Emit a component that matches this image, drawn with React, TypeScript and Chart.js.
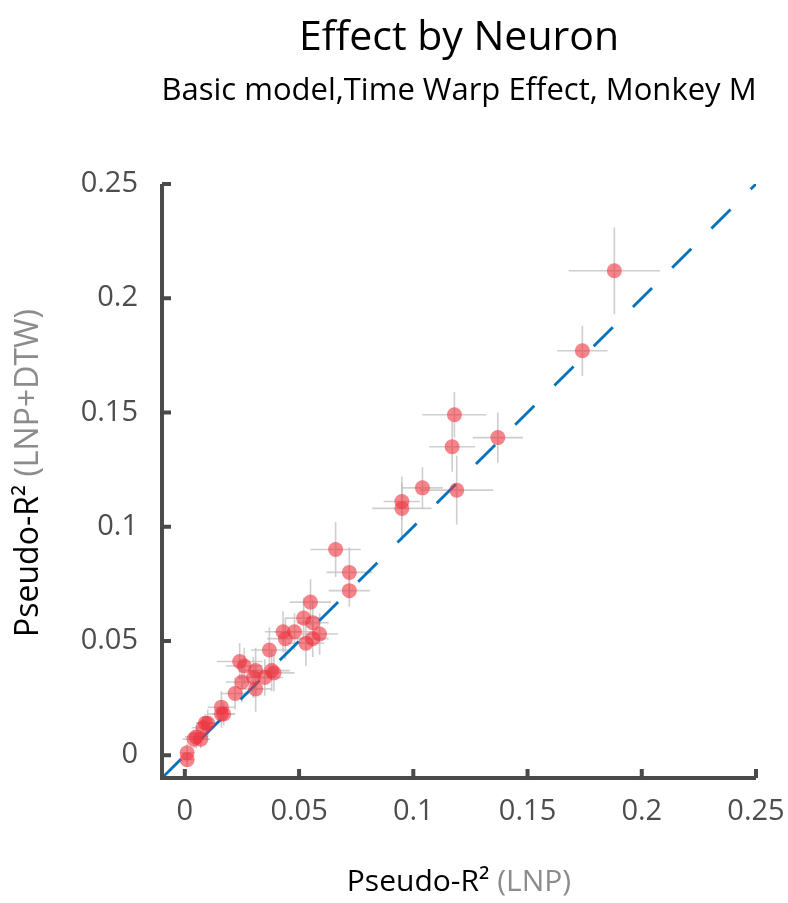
import React, { useEffect, useLayoutEffect, useRef } from "react";
import { Chart, registerables } from "chart.js";

Chart.register(...registerables);

// ---- data ----
const xVals = [
  0.188, 0.174, 0.118, 0.137, 0.117, 0.104, 0.119, 0.095, 0.095, 0.066,
  0.072, 0.072, 0.055, 0.052, 0.056, 0.059, 0.056, 0.053, 0.048, 0.043,
  0.044, 0.037, 0.024, 0.026, 0.031, 0.038, 0.039, 0.030, 0.035, 0.025,
  0.022, 0.031, 0.016, 0.016, 0.017, 0.010, 0.008, 0.009, 0.005, 0.004,
  0.007, 0.001, 0.001,
];
const yVals = [
  0.212, 0.177, 0.149, 0.139, 0.135, 0.117, 0.116, 0.111, 0.108, 0.090,
  0.080, 0.072, 0.067, 0.060, 0.058, 0.053, 0.051, 0.049, 0.054, 0.054,
  0.051, 0.046, 0.041, 0.039, 0.037, 0.037, 0.036, 0.034, 0.034, 0.032,
  0.027, 0.029, 0.021, 0.018, 0.018, 0.014, 0.012, 0.014, 0.008, 0.007,
  0.007, 0.001, -0.002,
];
const xErr = [
  0.020, 0.011, 0.014, 0.011, 0.010, 0.009, 0.016, 0.008, 0.013, 0.011,
  0.010, 0.009, 0.009, 0.008, 0.007, 0.008, 0.007, 0.008, 0.009, 0.008,
  0.008, 0.008, 0.010, 0.008, 0.007, 0.008, 0.009, 0.007, 0.008, 0.007,
  0.006, 0.007, 0.006, 0.006, 0.005, 0.005, 0.005, 0.004, 0.005, 0.005,
  0.004, 0.003, 0.003,
];
const yErr = [
  0.019, 0.011, 0.010, 0.011, 0.011, 0.009, 0.015, 0.008, 0.014, 0.012,
  0.011, 0.007, 0.010, 0.009, 0.010, 0.009, 0.008, 0.010, 0.008, 0.009,
  0.009, 0.010, 0.008, 0.008, 0.010, 0.009, 0.008, 0.009, 0.008, 0.009,
  0.007, 0.010, 0.007, 0.006, 0.005, 0.006, 0.005, 0.004, 0.005, 0.004,
  0.004, 0.004, 0.003,
];
const diagLine = [-0.01, 0.25];
const axisMin = -0.01;
const axisMax = 0.25;
const tickValues = [0, 0.05, 0.1, 0.15, 0.2, 0.25];
const tickLabels = ["0", "0.05", "0.1", "0.15", "0.2", "0.25"];

const titleText = "Effect by Neuron";
const subtitleText = "Basic model,Time Warp Effect, Monkey M";
const axisMain = "Pseudo-R²";
const xAxisExtra = " (LNP)";
const yAxisExtra = " (LNP+DTW)";

const FONT = "'Open Sans', 'Noto Sans', sans-serif";
const AXIS_COLOR = "#4a4a4a";
const TICK_TEXT = "#4d4d4d";

const CANVAS_W = 780;
const CANVAS_H = 895;

const decorPlugin = {
  id: "decor",
  beforeDatasetsDraw(chart: any) {
    const { ctx, scales } = chart;
    const x = scales.x;
    const y = scales.y;
    ctx.save();
    ctx.strokeStyle = "rgba(190,190,190,0.75)";
    ctx.lineWidth = 1.6;
    xVals.forEach((xv, i) => {
      const px = x.getPixelForValue(xv);
      const py = y.getPixelForValue(yVals[i]);
      ctx.beginPath();
      ctx.moveTo(x.getPixelForValue(xv - xErr[i]), py);
      ctx.lineTo(x.getPixelForValue(xv + xErr[i]), py);
      ctx.moveTo(px, y.getPixelForValue(yVals[i] - yErr[i]));
      ctx.lineTo(px, y.getPixelForValue(yVals[i] + yErr[i]));
      ctx.stroke();
    });
    ctx.restore();
  },
  afterDraw(chart: any) {
    const { ctx, chartArea, scales } = chart;
    const x = scales.x;
    const y = scales.y;
    const { left, right, top, bottom } = chartArea;
    ctx.save();
    // axes
    ctx.strokeStyle = AXIS_COLOR;
    ctx.lineWidth = 4;
    ctx.lineCap = "butt";
    ctx.beginPath();
    ctx.moveTo(left, top);
    ctx.lineTo(left, bottom + 2);
    ctx.moveTo(left - 2, bottom);
    ctx.lineTo(right, bottom);
    ctx.stroke();
    // inward tick marks
    ctx.beginPath();
    tickValues.forEach((v) => {
      const px = x.getPixelForValue(v);
      ctx.moveTo(px, bottom);
      ctx.lineTo(px, bottom - 9);
      const py = y.getPixelForValue(v);
      ctx.moveTo(left, py);
      ctx.lineTo(left + 9, py);
    });
    ctx.stroke();

    // x tick labels
    ctx.fillStyle = TICK_TEXT;
    ctx.font = `29px ${FONT}`;
    ctx.textAlign = "center";
    ctx.textBaseline = "alphabetic";
    tickValues.forEach((v, i) => {
      ctx.fillText(tickLabels[i], x.getPixelForValue(v), bottom + 42);
    });

    const cx = (left + right) / 2;
    // title
    ctx.fillStyle = "#000";
    ctx.textAlign = "center";
    ctx.font = `41px ${FONT}`;
    ctx.fillText(titleText, cx, 42);
    ctx.font = `31px ${FONT}`;
    ctx.fillText(subtitleText, cx, 92);

    // axis titles (two colours)
    const drawTwo = (main: string, extra: string) => {
      const w1 = ctx.measureText(main).width;
      const w2 = ctx.measureText(extra).width;
      const start = -(w1 + w2) / 2;
      ctx.textAlign = "left";
      ctx.fillStyle = "#000";
      ctx.fillText(main, start, 0);
      ctx.fillStyle = "#8c8c8c";
      ctx.fillText(extra, start + w1, 0);
    };
    ctx.font = `30px ${FONT}`;
    ctx.save();
    ctx.translate(cx, 883);
    drawTwo(axisMain, xAxisExtra);
    ctx.restore();

    ctx.font = `32px ${FONT}`;
    ctx.save();
    ctx.translate(30, 465);
    ctx.rotate(-Math.PI / 2);
    drawTwo(axisMain, yAxisExtra);
    ctx.restore();

    ctx.restore();
  },
};

export default function App() {
  const canvasRef = useRef<HTMLCanvasElement | null>(null);

  useLayoutEffect(() => {
    const body = document.body;
    const html = document.documentElement;
    const prevMargin = body.style.margin;
    const prevOverflow = html.style.overflow;
    body.style.margin = "0";
    html.style.overflow = "hidden";
    return () => {
      body.style.margin = prevMargin;
      html.style.overflow = prevOverflow;
    };
  }, []);

  useEffect(() => {
    if (!canvasRef.current) return;
    const tickCallback = (v: any) => {
      const idx = tickValues.findIndex((t) => Math.abs(t - Number(v)) < 1e-9);
      return idx >= 0 ? tickLabels[idx] : "";
    };
    const setTicks = (scale: any) => {
      scale.ticks = tickValues.map((v) => ({ value: v }));
    };
    const noPad = (s: any) => {
      s.paddingLeft = 0;
      s.paddingRight = 0;
      s.paddingTop = 0;
      s.paddingBottom = 0;
    };
    const chart = new Chart(canvasRef.current, {
      type: "scatter",
      data: {
        datasets: [
          {
            label: "points",
            data: xVals.map((xv, i) => ({ x: xv, y: yVals[i] })),
            pointRadius: 7.5,
            pointHoverRadius: 7.5,
            pointBackgroundColor: "rgba(238,50,62,0.6)",
            pointBorderWidth: 0,
            order: 1,
          },
          {
            label: "identity",
            type: "line",
            data: diagLine.map((v) => ({ x: v, y: v })),
            borderColor: "#0072BD",
            borderWidth: 2.8,
            borderDash: [27, 28.5],
            pointRadius: 0,
            fill: false,
            order: 2,
          } as any,
        ],
      },
      options: {
        animation: false,
        responsive: false,
        maintainAspectRatio: false,
        layout: { padding: { top: 176, right: CANVAS_W - 748, left: 0, bottom: 0 } },
        plugins: {
          legend: { display: false },
          tooltip: { enabled: false },
          title: { display: false },
        },
        scales: {
          x: {
            type: "linear",
            min: axisMin,
            max: axisMax,
            afterBuildTicks: setTicks,
            afterFit: (s: any) => {
              s.height = CANVAS_H - 770;
              noPad(s);
            },
            grid: { display: false, drawTicks: false },
            border: { display: false },
            ticks: {
              display: false,
              callback: tickCallback,
              font: { family: FONT, size: 29 },
              color: TICK_TEXT,
              maxRotation: 0,
              autoSkip: false,
            },
          },
          y: {
            type: "linear",
            min: axisMin,
            max: axisMax,
            afterBuildTicks: setTicks,
            afterFit: (s: any) => {
              s.width = 154;
              noPad(s);
            },
            grid: { display: false, drawTicks: false },
            border: { display: false },
            ticks: {
              callback: tickCallback,
              font: { family: FONT, size: 29 },
              color: TICK_TEXT,
              padding: 24,
              autoSkip: false,
            },
          },
        },
      },
      plugins: [decorPlugin],
    });
    return () => chart.destroy();
  }, []);

  return (
    <div style={{ width: 788, height: 903, padding: 8, boxSizing: "border-box", overflow: "visible" }}>
      <canvas
        ref={canvasRef}
        width={CANVAS_W}
        height={CANVAS_H}
        style={{ display: "block", width: CANVAS_W, height: CANVAS_H }}
      />
    </div>
  );
}
